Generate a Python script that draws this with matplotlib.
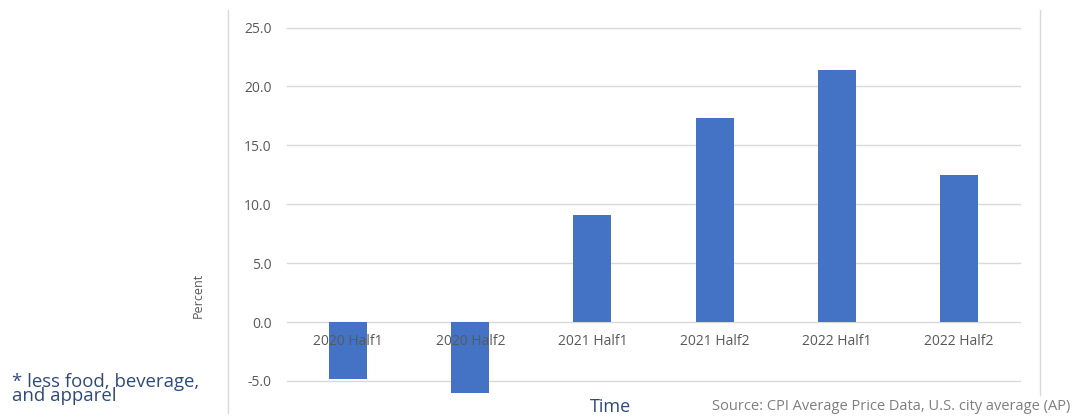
import matplotlib
matplotlib.use("Agg")
import matplotlib.pyplot as plt
from matplotlib.lines import Line2D

categories = ["2020 Half1", "2020 Half2", "2021 Half1", "2021 Half2", "2022 Half1", "2022 Half2"]
values = [-4.8, -6.0, 9.1, 17.3, 21.4, 12.5]
yticks = [-5.0, 0.0, 5.0, 10.0, 15.0, 20.0, 25.0]

plt.rcParams['font.family'] = ['Open Sans', 'DejaVu Sans']

fig = plt.figure(figsize=(10.74, 4.17), dpi=100)
ax = fig.add_axes([287/1074, 1-381/417, (1020-287)/1074, (381-27.5)/417])

x = list(range(len(categories)))
bars = ax.bar(x, values, width=0.31, color="#4472C4", zorder=2, clip_on=False)

ax.set_xlim(-0.5, len(categories) - 0.5)
ax.set_ylim(-5, 25)
ax.set_yticks(yticks)
ax.set_yticklabels([f"{v:.1f}" for v in yticks], color="#595959", fontsize=10)
ax.tick_params(axis='y', length=0, pad=11)
ax.set_xticks([])
for s in ax.spines.values():
    s.set_visible(False)
ax.grid(axis='y', color="#D9D9D9", linewidth=1, zorder=0)
for gl in ax.get_ygridlines():
    gl.set_clip_on(False)

for xi, lab in zip(x, categories):
    ax.text(xi, -1.0, lab, ha='center', va='top',
            fontsize=10, color="#595959", zorder=3)

fig.text(198/1074, 1-295/417, "Percent", rotation=90, ha='center', va='center',
         fontsize=9, color="#595959")
fig.text(610/1074, 1-407/417, "Time", ha='center', va='center', fontsize=13, color="#2F4A7A")
fig.text(1070/1074, 1-407/417, "Source: CPI Average Price Data, U.S. city average (AP)",
         ha='right', va='center', fontsize=10.5, color="#7F7F7F")
fig.text(12/1074, 1-389/417, "* less food, beverage,\nand apparel", ha='left', va='center',
         fontsize=13.4, color="#2F4A7A", linespacing=0.78)

fig.add_artist(Line2D([228/1074, 228/1074], [1-413/417, 1-10/417], color="#D9D9D9", lw=1))
fig.add_artist(Line2D([1040/1074, 1040/1074], [1-395/417, 1-10/417], color="#D9D9D9", lw=1))

fig.savefig("out.png", dpi=100)
